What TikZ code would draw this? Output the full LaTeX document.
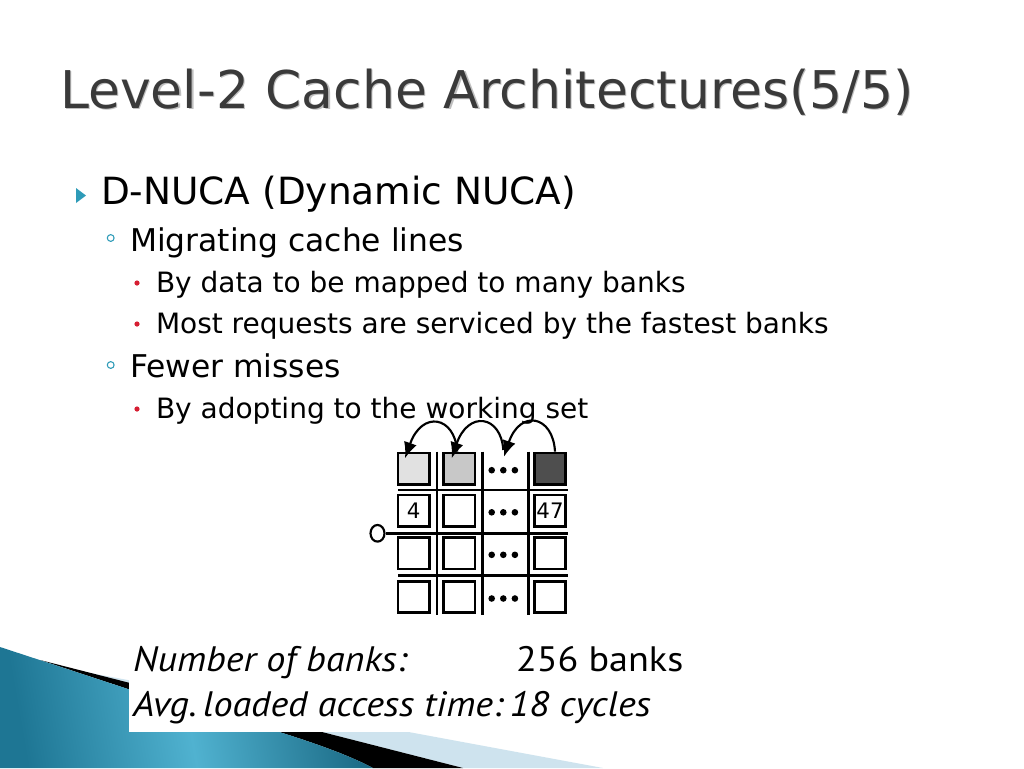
\documentclass[tikz,border=0pt]{standalone}
\usepackage{fontspec}
\setmainfont{DejaVu Sans}
\newfontfamily\boxfont{PT Sans}
\usetikzlibrary{arrows.meta,calc,shapes.geometric}
\definecolor{titlegray}{RGB}{58,58,58}
\definecolor{bulletteal}{RGB}{46,155,184}
\definecolor{bulletred}{RGB}{214,30,50}
\definecolor{tealdark}{RGB}{30,118,148}
\definecolor{teallight}{RGB}{80,178,208}
\definecolor{paleblue}{RGB}{206,227,238}
\definecolor{cellA}{RGB}{225,225,225}
\definecolor{cellB}{RGB}{200,200,200}
\definecolor{cellC}{RGB}{78,78,78}
\begin{document}
\begin{tikzpicture}[x=0.75pt,y=-0.75pt,
  txt/.style={anchor=base west,inner sep=0pt,outer sep=0pt},
  lvlone/.style={txt,font=\fontsize{28.1pt}{32pt}\selectfont},
  lvltwo/.style={txt,font=\fontsize{23.5pt}{28pt}\selectfont},
  lvlthree/.style={txt,font=\fontsize{21pt}{25pt}\selectfont},
  cell/.style={draw,line width=2pt,minimum size=23.6pt,inner sep=0pt,
     font=\fontsize{16pt}{18pt}\selectfont},
  dotcell/.style={minimum size=24pt,inner sep=0pt},
  gridline/.style={line width=1.8pt},
  arcarrow/.style={line width=1.6pt,-{Latex[length=12pt,width=10pt]}},
  boxtxt/.style={txt,font=\boxfont\fontsize{26.5pt}{30pt}\selectfont}]
\useasboundingbox (0,0) rectangle (1024,768);
\fill[white] (0,0) rectangle (1024,768);
% bottom-left decoration
\fill[paleblue] (90,673) -- (603,768) -- (463,768) -- cycle;
\fill[black] (40,660) -- (463,768) -- (373,768) .. controls (330,745) and (250,722) .. (128,689) -- cycle;
\shade[left color=tealdark,right color=tealdark!90!black,middle color=teallight,shading angle=100]
  (0,647) -- (128,689) .. controls (250,722) and (330,745) .. (373,768) -- (0,768) -- cycle;
% title
\node[txt,font=\fontsize{39pt}{45pt}\selectfont,text=black!25] at (61.2,109.5) {Level-2 Cache Architectures(5/5)};
\node[txt,font=\fontsize{39pt}{45pt}\selectfont,text=titlegray] (title) at (60,108.3) {Level-2 Cache Architectures(5/5)};
% bullets
\fill[bulletteal] (76,188) -- (76,203) -- (86,195.5) -- cycle;
\draw[bulletteal,line width=0.8pt] (110.7,238) circle[radius=3.4];
\draw[bulletteal,line width=0.8pt] (110.7,365) circle[radius=3.4];
\fill[bulletred] (137,283) circle[radius=2.6];
\fill[bulletred] (137,324) circle[radius=2.6];
\fill[bulletred] (137,409) circle[radius=2.6];
\node[lvlone] (l1) at (101,204) {D-NUCA (Dynamic NUCA)};
\node[lvltwo] (l2a) at (130,251.7) {Migrating cache lines};
\node[lvlthree] (l3a) at (156,292) {By data to be mapped to many banks};
\node[lvlthree] (l3b) at (156,333) {Most requests are serviced by the fastest banks};
\node[lvltwo] (l2b) at (130,377.3) {Fewer misses};
\node[lvlthree] (l3c) at (156,418) {By adopting to the working set};
% grid lines
\foreach \gx in {437,482.3,528.3} \draw[gridline] (\gx,451.7) -- (\gx,615);
\draw[gridline] (398,490) -- (568,490);
\draw[gridline] (398,575.5) -- (568,575.5);
\node[ellipse,draw,line width=1.6pt,minimum width=10.5pt,minimum height=12.5pt,inner sep=0pt] (port) at (377.5,533.3) {};
\coordinate (portend) at (568,533.3);
\draw[gridline] (port.east) -- (portend);
% cells
\foreach \r/\ry in {1/468.7,2/510.8,3/553.3,4/597}{
  \node[dotcell] (d\r) at (503.3,\ry) {};
  \foreach \dx in {-11.6,0,11.6} \fill ($(d\r.center)+(\dx,1.5)$) circle[radius=3.3];
}
\node[cell,fill=cellA] (c11) at (413.7,468.7) {};
\node[cell,fill=cellB] (c12) at (459.2,468.7) {};
\node[cell,fill=cellC] (c14) at (550,468.7) {};
\node[cell,fill=white] (c21) at (413.7,510.8) {4};
\node[cell,fill=white] (c22) at (459.2,510.8) {};
\node[cell,fill=white] (c24) at (550,510.8) {47};
\node[cell,fill=white] (c31) at (413.7,553.3) {};
\node[cell,fill=white] (c32) at (459.2,553.3) {};
\node[cell,fill=white] (c34) at (550,553.3) {};
\node[cell,fill=white] (c41) at (413.7,597) {};
\node[cell,fill=white] (c42) at (459.2,597) {};
\node[cell,fill=white] (c44) at (550,597) {};
% migration arrows
\draw[arcarrow] ($(c12.north)+(-2,0)$) .. controls (455,416) and (422,410) .. ($(c11.center)+(-8.7,-10.4)$);
\draw[arcarrow] ($(d1.center)+(0,-18.7)$) .. controls (501,415) and (468,410) .. ($(c12.center)+(-7.5,-10.4)$);
\draw[arcarrow] ($(c14.north)+(5,0)$) .. controls (553,415) and (520,409) .. ($(d1.center)+(0.7,-12)$);
% bottom text box
\fill[white] (129,638) rectangle (690,731.7);
\node[boxtxt] (nb) at (133,671.7) {\scalebox{1.08}[1]{\itshape Number of banks:}};
\node[boxtxt] (nbv) at (516,671.7) {\scalebox{1.08}[1]{256 banks}};
\node[boxtxt] (avg) at (133,716.7) {\scalebox{1.08}[1]{\itshape Avg.\,loaded access time:\,18 cycles}};
\end{tikzpicture}
\end{document}
